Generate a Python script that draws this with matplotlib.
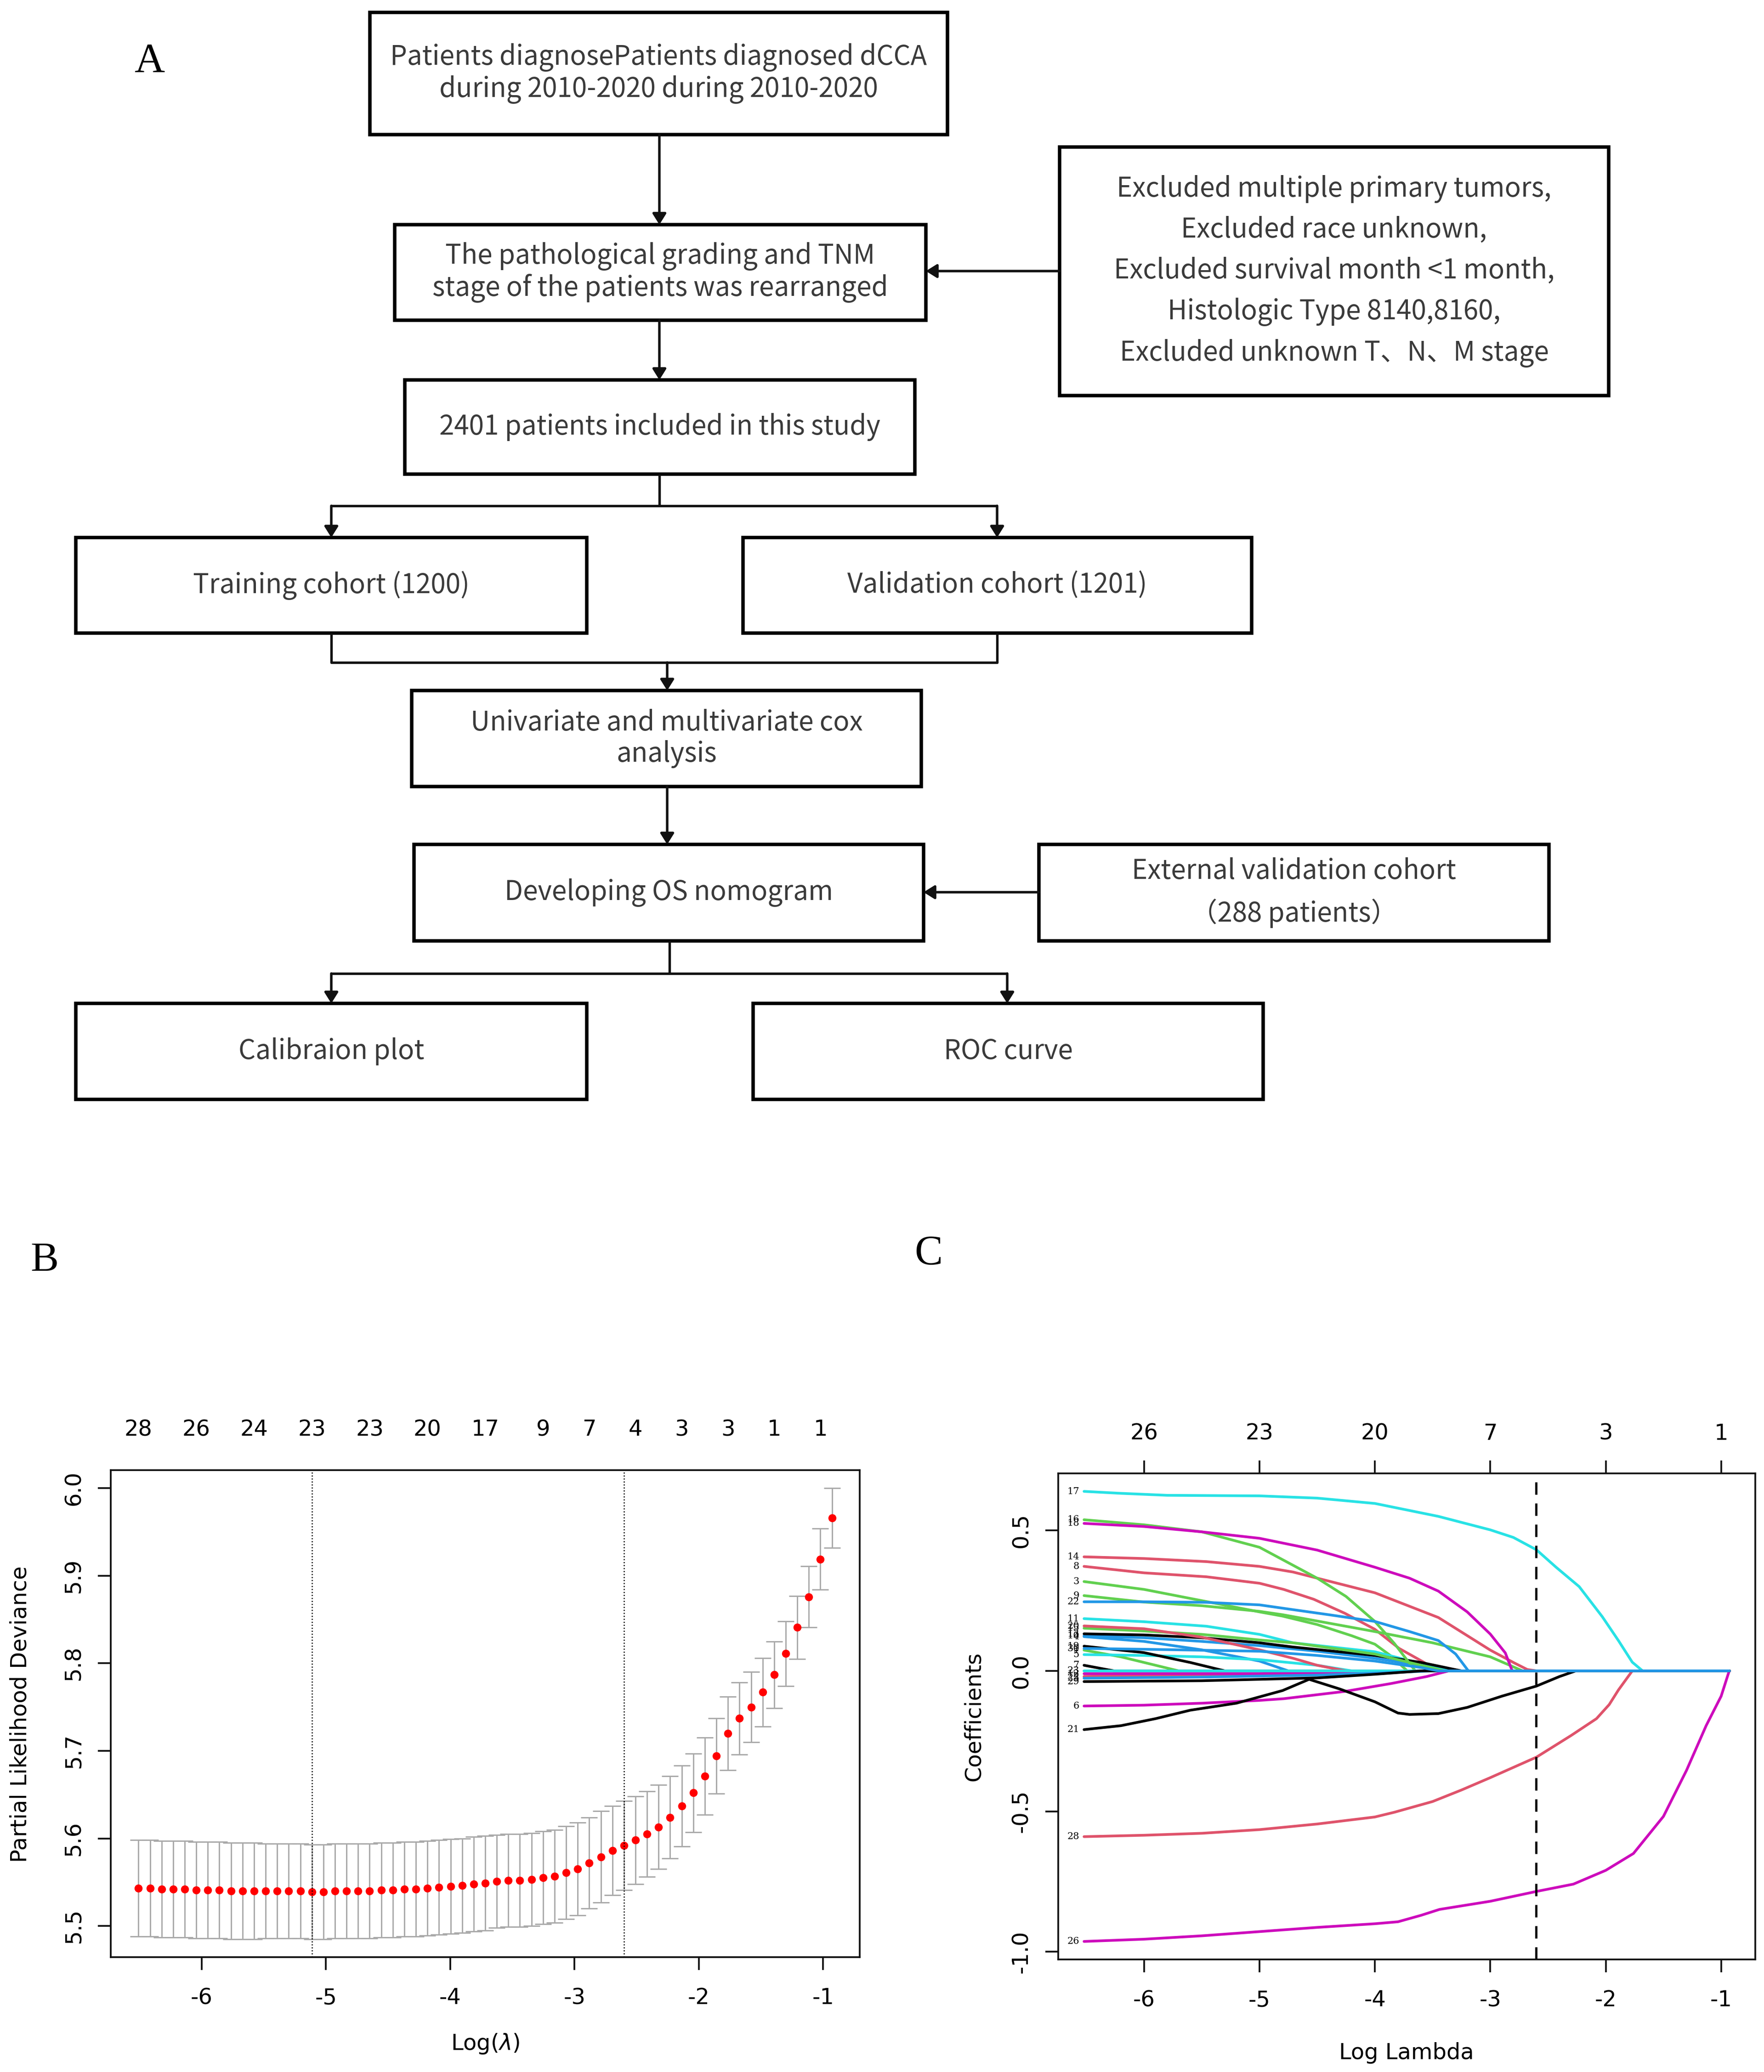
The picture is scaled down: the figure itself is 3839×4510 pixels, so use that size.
import numpy as np
import matplotlib
matplotlib.use("Agg")
import matplotlib.pyplot as plt
from matplotlib.patches import Rectangle

plt.rcParams['font.family'] = 'DejaVu Sans'
plt.rcParams['axes.unicode_minus'] = False

# ---- panel B: cross-validation curve ----
log_lambda = [-6.508, -6.415, -6.322, -6.229, -6.136, -6.043, -5.950, -5.857, -5.764, -5.671,
              -5.578, -5.485, -5.392, -5.299, -5.206, -5.113, -5.020, -4.927, -4.834, -4.741,
              -4.648, -4.555, -4.462, -4.369, -4.276, -4.183, -4.090, -3.997, -3.904, -3.811,
              -3.718, -3.625, -3.532, -3.439, -3.346, -3.253, -3.160, -3.067, -2.974, -2.881,
              -2.788, -2.695, -2.602, -2.509, -2.416, -2.323, -2.230, -2.137, -2.044, -1.951,
              -1.858, -1.765, -1.672, -1.579, -1.486, -1.393, -1.300, -1.207, -1.114, -1.021,
              -0.928]
cvm = [5.543, 5.543, 5.542, 5.542, 5.542, 5.541, 5.541, 5.541, 5.540, 5.540,
       5.540, 5.540, 5.540, 5.540, 5.540, 5.539, 5.539, 5.540, 5.540, 5.540,
       5.540, 5.541, 5.541, 5.542, 5.542, 5.543, 5.544, 5.545, 5.546, 5.548,
       5.549, 5.551, 5.552, 5.552, 5.553, 5.555, 5.557, 5.561, 5.565, 5.572,
       5.579, 5.586, 5.592, 5.598, 5.605, 5.613, 5.624, 5.637, 5.652, 5.671,
       5.694, 5.720, 5.737, 5.750, 5.767, 5.787, 5.811, 5.841, 5.876, 5.919,
       5.966]
cvsd = [0.055, 0.055, 0.055, 0.055, 0.055, 0.055, 0.055, 0.055, 0.055, 0.055,
        0.055, 0.054, 0.054, 0.054, 0.054, 0.054, 0.054, 0.054, 0.054, 0.054,
        0.054, 0.054, 0.054, 0.054, 0.054, 0.054, 0.054, 0.054, 0.054, 0.054,
        0.054, 0.053, 0.053, 0.053, 0.053, 0.053, 0.053, 0.053, 0.053, 0.052,
        0.052, 0.051, 0.051, 0.050, 0.049, 0.048, 0.047, 0.046, 0.045, 0.044,
        0.043, 0.042, 0.041, 0.040, 0.039, 0.038, 0.037, 0.036, 0.035, 0.035,
        0.034]
log_lambda_min = -5.113
log_lambda_1se = -2.602
nz_pos = [0, 5, 10, 15, 20, 25, 30, 35, 39, 43, 47, 51, 55, 59]
nz_lab = [28, 26, 24, 23, 23, 20, 17, 9, 7, 4, 3, 3, 1, 1]

# ---- panel C: coefficient paths (log lambda, coefficient) ----
path_1 = [(-6.52, 0.074), (-6.2, 0.05), (-5.9, 0.02), (-5.7, 0.0)]
path_2 = [(-6.52, -0.02), (-5.5, -0.015), (-4.8, -0.01), (-4.4, 0.0)]
path_3 = [(-6.52, 0.318), (-6.0, 0.29), (-5.5, 0.25), (-5.0, 0.21), (-4.8, 0.195), (-4.5, 0.165),
          (-4.2, 0.125), (-4.0, 0.095), (-3.85, 0.05), (-3.72, 0.0)]
path_4 = [(-6.52, 0.122), (-6.0, 0.105), (-5.5, 0.075), (-5.0, 0.035), (-4.75, 0.0)]
path_5 = [(-6.52, 0.058), (-6.0, 0.055), (-5.5, 0.05), (-5.0, 0.04), (-4.5, 0.02), (-4.2, 0.0)]
path_6 = [(-6.52, -0.125), (-6.0, -0.122), (-5.5, -0.115), (-5.0, -0.105), (-4.79, -0.099),
          (-4.26, -0.073), (-3.86, -0.045), (-3.55, -0.02), (-3.36, 0.0)]
path_7 = [(-6.52, 0.02), (-6.26, 0.0)]
path_8 = [(-6.52, 0.372), (-6.0, 0.349), (-5.46, 0.335), (-5.0, 0.312), (-4.79, 0.29), (-4.53, 0.255),
          (-4.26, 0.205), (-4.0, 0.148), (-3.79, 0.08), (-3.59, 0.034), (-3.45, 0.0)]
path_9 = [(-6.52, 0.268), (-6.0, 0.245), (-5.5, 0.232), (-5.0, 0.212), (-4.8, 0.20), (-4.4, 0.17),
          (-4.0, 0.14), (-3.5, 0.10), (-3.0, 0.05), (-2.72, 0.0)]
path_10 = [(-6.52, 0.125), (-6.0, 0.118), (-5.5, 0.105), (-5.0, 0.09), (-4.5, 0.07), (-4.0, 0.045),
           (-3.6, 0.02), (-3.3, 0.0)]
path_11 = [(-6.52, 0.186), (-6.0, 0.175), (-5.46, 0.159), (-5.0, 0.13), (-4.71, 0.10), (-4.0, 0.068),
           (-3.59, 0.025), (-3.32, 0.0)]
path_12 = [(-6.52, -0.01), (-5.0, -0.01), (-4.0, -0.005), (-3.7, 0.0)]
path_13 = [(-6.52, 0.132), (-6.0, 0.128), (-5.5, 0.118), (-5.0, 0.10), (-4.71, 0.085), (-4.0, 0.055),
           (-3.6, 0.03), (-3.25, 0.0)]
path_14 = [(-6.52, 0.406), (-6.0, 0.40), (-5.46, 0.389), (-5.0, 0.372), (-4.71, 0.352), (-4.0, 0.278),
           (-3.45, 0.19), (-3.0, 0.074), (-2.8, 0.03), (-2.68, 0.005), (-2.6, 0.0)]
path_15 = [(-6.52, 0.152), (-6.0, 0.142), (-5.5, 0.13), (-5.0, 0.11), (-4.71, 0.10), (-4.0, 0.06),
           (-3.6, 0.02), (-3.4, 0.0)]
path_16 = [(-6.52, 0.538), (-6.0, 0.52), (-5.5, 0.495), (-5.0, 0.44), (-4.75, 0.385), (-4.5, 0.33),
           (-4.25, 0.265), (-4.0, 0.176), (-3.83, 0.097), (-3.65, 0.0)]
path_17 = [(-6.52, 0.639), (-6.2, 0.632), (-5.8, 0.625), (-5.0, 0.623), (-4.5, 0.615), (-4.0, 0.596),
           (-3.45, 0.55), (-3.0, 0.502), (-2.8, 0.475), (-2.6, 0.431), (-2.43, 0.369), (-2.23, 0.30),
           (-2.03, 0.193), (-1.89, 0.108), (-1.77, 0.031), (-1.68, 0.0)]
path_18 = [(-6.52, 0.525), (-6.0, 0.514), (-5.5, 0.495), (-5.0, 0.472), (-4.5, 0.43), (-4.0, 0.369),
           (-3.7, 0.33), (-3.45, 0.284), (-3.2, 0.21), (-3.0, 0.131), (-2.87, 0.064), (-2.81, 0.0)]
path_19 = [(-6.52, 0.088), (-6.0, 0.065), (-5.6, 0.03), (-5.3, 0.0)]
path_20 = [(-6.52, 0.16), (-6.0, 0.15), (-5.5, 0.12), (-5.0, 0.075), (-4.71, 0.045), (-4.5, 0.02),
           (-4.25, 0.0)]
path_21 = [(-6.52, -0.209), (-6.2, -0.195), (-5.9, -0.17), (-5.6, -0.14), (-5.2, -0.115), (-4.8, -0.07),
           (-4.57, -0.03), (-4.3, -0.065), (-4.0, -0.11), (-3.8, -0.15), (-3.7, -0.155), (-3.45, -0.152),
           (-3.2, -0.13), (-2.9, -0.09), (-2.6, -0.054), (-2.4, -0.02), (-2.26, 0.0)]
path_22 = [(-6.52, 0.246), (-6.0, 0.246), (-5.46, 0.244), (-5.0, 0.235), (-4.71, 0.218), (-4.4, 0.20),
           (-4.0, 0.176), (-3.7, 0.14), (-3.45, 0.108), (-3.3, 0.06), (-3.19, 0.0)]
path_23 = [(-6.52, 0.0), (-4.0, 0.0)]
path_25 = [(-6.52, -0.026), (-5.5, -0.022), (-4.5, -0.015), (-3.8, -0.005), (-3.5, 0.0)]
path_26 = [(-6.52, -0.963), (-6.0, -0.955), (-5.5, -0.943), (-5.0, -0.928), (-4.5, -0.913), (-4.0, -0.90),
           (-3.8, -0.893), (-3.6, -0.87), (-3.44, -0.849), (-3.0, -0.82), (-2.6, -0.785), (-2.28, -0.759),
           (-2.0, -0.71), (-1.76, -0.65), (-1.5, -0.518), (-1.3, -0.354), (-1.13, -0.195), (-1.0, -0.09),
           (-0.93, 0.0)]
path_28 = [(-6.52, -0.59), (-6.0, -0.585), (-5.5, -0.578), (-5.0, -0.565), (-4.5, -0.545), (-4.0, -0.52),
           (-3.83, -0.503), (-3.5, -0.465), (-3.25, -0.424), (-3.0, -0.38), (-2.6, -0.307), (-2.3, -0.23),
           (-2.08, -0.17), (-1.97, -0.12), (-1.89, -0.068), (-1.77, 0.0)]
path_29 = [(-6.52, -0.038), (-5.5, -0.035), (-4.5, -0.025), (-4.0, -0.012), (-3.6, 0.0)]
path_30 = [(-6.52, 0.08), (-6.0, 0.077), (-5.0, 0.07), (-4.5, 0.055), (-4.0, 0.035), (-3.6, 0.012),
           (-3.45, 0.0)]
coef_top_ticks = [-6, -5, -4, -3, -2, -1]
coef_top_labels = [26, 23, 20, 7, 3, 1]

coef_paths = {1: path_1, 2: path_2, 3: path_3, 4: path_4, 5: path_5, 6: path_6, 7: path_7,
              8: path_8, 9: path_9, 10: path_10, 11: path_11, 12: path_12, 13: path_13,
              14: path_14, 15: path_15, 16: path_16, 17: path_17, 18: path_18, 19: path_19,
              20: path_20, 21: path_21, 22: path_22, 23: path_23, 25: path_25, 26: path_26,
              28: path_28, 29: path_29, 30: path_30}

# R default palette colours
K, R_, G_, B_, C_, M_ = '#000000', '#DF536B', '#61D04F', '#2297E6', '#28E2E5', '#CD0BBC'
line_colors = {1: G_, 2: R_, 3: G_, 4: B_, 5: C_, 6: M_, 7: K, 8: R_, 9: G_, 10: B_, 11: C_,
               12: M_, 13: K, 14: R_, 15: G_, 16: G_, 17: C_, 18: M_, 19: K, 20: R_, 21: K,
               22: B_, 23: C_, 25: B_, 26: M_, 28: R_, 29: K, 30: B_}

# ---- figure ----
W, H = 3839, 4510
fig = plt.figure(figsize=(W / 300, H / 300), dpi=300)

ax0 = fig.add_axes([0, 0, 1, 1])
ax0.set_xlim(0, W)
ax0.set_ylim(H, 0)
ax0.axis('off')

CJK = ['Noto Sans CJK SC', 'DejaVu Sans']
FS = 14


def box(x0, y0, x1, y1, text, ls=1.15):
    ax0.add_patch(Rectangle((x0, y0), x1 - x0, y1 - y0, fill=False, lw=1.8, ec='black'))
    ax0.text((x0 + x1) / 2, (y0 + y1) / 2, text, ha='center', va='center', fontsize=FS,
             color='#3a3a3a', linespacing=ls, family=CJK)


def seg(xs, ys):
    ax0.plot(xs, ys, color='#111111', lw=1.3, solid_capstyle='butt')


def arrow(x0, y0, x1, y1):
    ax0.annotate('', xy=(x1, y1), xytext=(x0, y0),
                 arrowprops=dict(arrowstyle='-|>,head_length=0.4,head_width=0.25', lw=1.3,
                                 color='#111111', shrinkA=0, shrinkB=0, mutation_scale=12))


box(805, 27, 2062, 293, "Patients diagnosePatients diagnosed dCCA\nduring 2010-2020 during 2010-2020")
box(859, 489, 2015, 697, "The pathological grading and TNM\nstage of the patients was rearranged")
box(2306, 320, 3501, 861, "Excluded multiple primary tumors,\nExcluded race unknown,\n"
    "Excluded survival month <1 month,\nHistologic Type 8140,8160,\nExcluded unknown T、N、M stage",
    ls=1.6)
box(881, 827, 1991, 1032, "2401 patients included in this study")
box(165, 1170, 1277, 1378, "Training cohort (1200)")
box(1617, 1170, 2724, 1378, "Validation cohort (1201)")
box(896, 1503, 2005, 1712, "Univariate and multivariate cox\nanalysis")
box(901, 1838, 2010, 2048, "Developing OS nomogram")
box(2261, 1838, 3371, 2048, "External validation cohort\n（288 patients）", ls=1.6)
box(165, 2184, 1277, 2393, "Calibraion plot")
box(1639, 2184, 2749, 2393, "ROC curve")

arrow(1435, 293, 1435, 489)
arrow(2306, 590, 2015, 590)
arrow(1435, 697, 1435, 827)
seg([1435, 1435], [1032, 1101])
seg([721, 2170], [1101, 1101])
arrow(721, 1101, 721, 1170)
arrow(2170, 1101, 2170, 1170)
seg([721, 721, 2170, 2170], [1378, 1442, 1442, 1378])
arrow(1452, 1442, 1452, 1503)
arrow(1452, 1712, 1452, 1838)
arrow(2261, 1942, 2010, 1942)
seg([1457, 1457], [2048, 2119])
seg([721, 2192], [2119, 2119])
arrow(721, 2119, 721, 2184)
arrow(2192, 2119, 2192, 2184)

for lab, (px, py) in {'A': (325, 135), 'B': (97, 2745), 'C': (2021, 2730)}.items():
    ax0.text(px, py, lab, ha='center', va='center', fontsize=22, family='Liberation Serif')

TFS = 11.5


def style_axes(ax):
    for s in ax.spines.values():
        s.set_linewidth(0.9)
        s.set_color('#111111')
    ax.tick_params(direction='out', length=6.7, width=0.9, labelsize=TFS, color='#111111')
    ax.tick_params(axis='x', pad=9)
    ax.tick_params(axis='y', pad=7, labelrotation=90)
    for t in ax.get_yticklabels():
        t.set_va('center')


def r_range(vals):
    lo, hi = min(vals), max(vals)
    pad = 0.04 * (hi - lo)
    return lo - pad, hi + pad


# ---- panel B ----
axB = fig.add_axes([241 / W, 1 - 4260 / H, 1630 / W, 1060 / H])
axB.errorbar(log_lambda, cvm, yerr=cvsd, fmt='none', ecolor='#A9A9A9', elinewidth=0.7,
             capsize=4.4, capthick=0.7)
axB.plot(log_lambda, cvm, 'o', color='red', ms=4.2, mec='none')
axB.axvline(log_lambda_min, color='black', lw=0.6, ls=(0, (1, 1.6)))
axB.axvline(log_lambda_1se, color='black', lw=0.6, ls=(0, (1, 1.6)))
axB.set_xlim(*r_range(log_lambda))
lo_b = [m - s for m, s in zip(cvm, cvsd)]
hi_b = [m + s for m, s in zip(cvm, cvsd)]
axB.set_ylim(*r_range(lo_b + hi_b))
axB.set_xticks([-6, -5, -4, -3, -2, -1])
axB.set_yticks([5.5, 5.6, 5.7, 5.8, 5.9, 6.0])
axB.set_yticklabels(['5.5', '5.6', '5.7', '5.8', '5.9', '6.0'])
style_axes(axB)
axBt = axB.twiny()
axBt.set_xlim(axB.get_xlim())
axBt.set_xticks([log_lambda[i] for i in nz_pos])
axBt.set_xticklabels([str(v) for v in nz_lab])
axBt.tick_params(axis='x', length=0, pad=15.5, labelsize=TFS)
for s in axBt.spines.values():
    s.set_visible(False)
fig.text(44 / W, 1 - 3731 / H, 'Partial Likelihood Deviance', rotation=90, ha='center',
         va='center', fontsize=TFS)
fig.text(1056 / W, 1 - 4448 / H, 'Log($\\lambda$)', ha='center', va='center', fontsize=TFS)

# ---- panel C ----
axC = fig.add_axes([2303 / W, 1 - 4265 / H, 1517 / W, 1058 / H])
x_end = log_lambda[-1]
all_x, all_y = [], []
for lab, pts in coef_paths.items():
    # every coefficient is zero at the largest lambda
    xs = [p[0] for p in pts] + [x_end]
    ys = [p[1] for p in pts] + [0.0]
    all_x += xs
    all_y += ys
    axC.plot(xs, ys, color=line_colors[lab], lw=1.4, solid_capstyle='round')
    axC.annotate(str(lab), xy=(xs[0], ys[0]), xytext=(-2.5, 0), textcoords='offset points',
                 ha='right', va='center', fontsize=5, family='DejaVu Serif')
axC.axvline(log_lambda_1se, color='black', lw=1.2, ls=(0, (5.4, 3.8)))
axC.set_xlim(*r_range(all_x))
axC.set_ylim(*r_range(all_y))
axC.set_xticks([-6, -5, -4, -3, -2, -1])
axC.set_yticks([0.5, 0.0, -0.5, -1.0])
axC.set_yticklabels(['0.5', '0.0', '-0.5', '-1.0'])
style_axes(axC)
axCt = axC.twiny()
axCt.set_xlim(axC.get_xlim())
axCt.set_xticks(coef_top_ticks)
axCt.set_xticklabels([str(v) for v in coef_top_labels])
axCt.tick_params(axis='x', length=6.7, width=0.9, pad=8.5, labelsize=TFS, color='#111111')
for s in axCt.spines.values():
    s.set_visible(False)
fig.text(2119 / W, 1 - 3736 / H, 'Coefficients', rotation=90, ha='center', va='center',
         fontsize=TFS)
fig.text(3061 / W, 1 - 4469 / H, 'Log Lambda', ha='center', va='center', fontsize=TFS)

fig.savefig('out.png', dpi=300)
